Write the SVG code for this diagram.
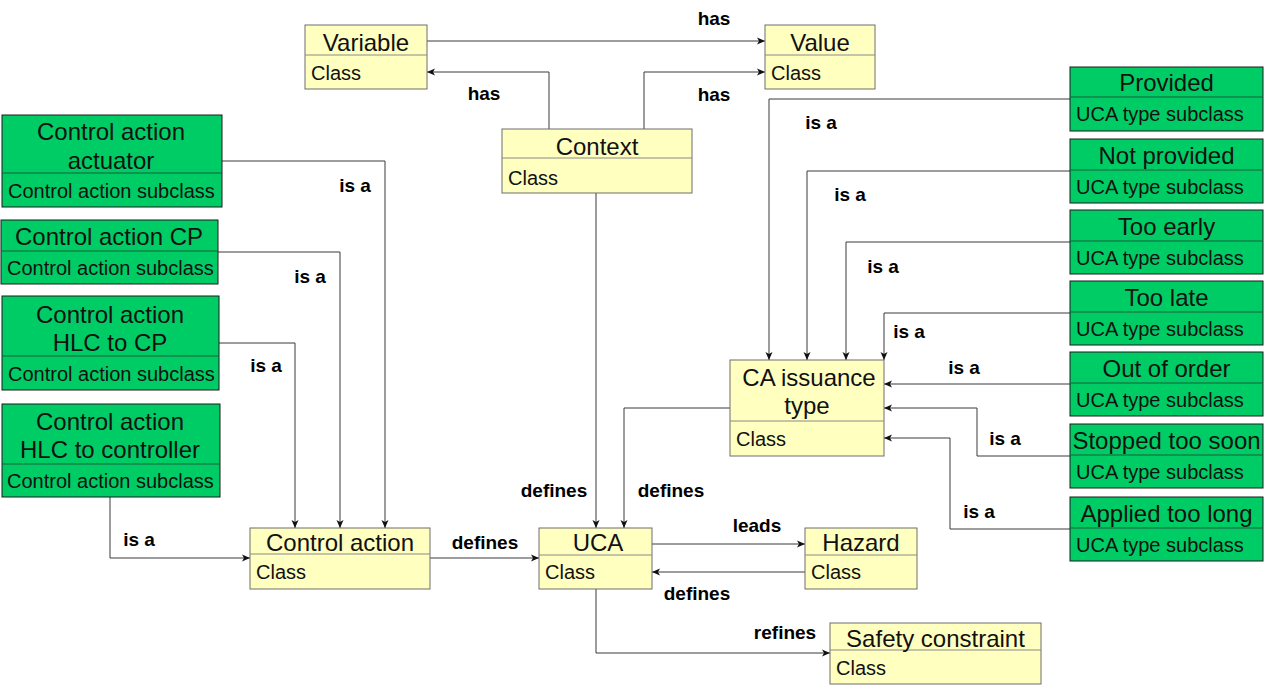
<svg xmlns="http://www.w3.org/2000/svg" width="1265" height="688" viewBox="0 0 1265 688">
  <style>
    .cls { fill: #FFFFC0; stroke: #6e6e6e; stroke-width: 1; }
    .div { stroke: #8a8a8a; stroke-width: 1; }
    .sub { fill: #00CC66; stroke: #1a1a1a; stroke-width: 1; }
    .sdiv { stroke: #1f5c38; stroke-width: 1; }
    .hd { font-family: "Liberation Sans", Arial, sans-serif; font-size: 24px; fill: #111; text-anchor: middle; }
    .at { font-family: "Liberation Sans", Arial, sans-serif; font-size: 20px; fill: #111; }
    .lbl { font-family: "Liberation Sans", Arial, sans-serif; font-size: 19px; font-weight: bold; fill: #000; text-anchor: middle; }
    .edge { fill: none; stroke: #3a3a3a; stroke-width: 1; marker-end: url(#arr); }
  </style>
  <defs>
    <marker id="arr" markerUnits="userSpaceOnUse" markerWidth="9" markerHeight="8" refX="8" refY="4" orient="auto">
      <path d="M0,0.5 L8,4 L0,7.5 L2,4 Z" fill="#111"/>
    </marker>
  </defs>
  <rect width="1265" height="688" fill="#ffffff"/>

  <!-- connectors -->
  <g id="connectors">
    <path class="edge" d="M427,41 H765"/>
    <path class="edge" d="M549,129 V72 H427"/>
    <path class="edge" d="M644,129 V72 H765"/>
    <path class="edge" d="M221,161 H385 V528"/>
    <path class="edge" d="M218,252 H340 V528"/>
    <path class="edge" d="M219,343 H295 V528"/>
    <path class="edge" d="M110,497 V558 H250"/>
    <path class="edge" d="M430,558 H539"/>
    <path class="edge" d="M596,193 V528"/>
    <path class="edge" d="M730,408 H624 V528"/>
    <path class="edge" d="M652,544 H805"/>
    <path class="edge" d="M805,572 H652"/>
    <path class="edge" d="M596,589 V653 H830"/>
    <path class="edge" d="M1070,99 H769 V360"/>
    <path class="edge" d="M1070,171 H807 V360"/>
    <path class="edge" d="M1070,242 H846 V360"/>
    <path class="edge" d="M1070,313 H884 V360"/>
    <path class="edge" d="M1070,384 H884"/>
    <path class="edge" d="M1070,456 H977 V408 H884"/>
    <path class="edge" d="M1070,529 H950 V438 H884"/>

    <text class="lbl" x="714" y="25">has</text>
    <text class="lbl" x="484" y="100">has</text>
    <text class="lbl" x="714" y="101">has</text>
    <text class="lbl" x="355" y="192">is a</text>
    <text class="lbl" x="310" y="283">is a</text>
    <text class="lbl" x="266" y="372">is a</text>
    <text class="lbl" x="139" y="546">is a</text>
    <text class="lbl" x="485" y="549">defines</text>
    <text class="lbl" x="554" y="497">defines</text>
    <text class="lbl" x="671" y="497">defines</text>
    <text class="lbl" x="757" y="532">leads</text>
    <text class="lbl" x="697" y="600">defines</text>
    <text class="lbl" x="785" y="639">refines</text>
    <text class="lbl" x="821" y="129">is a</text>
    <text class="lbl" x="850" y="201">is a</text>
    <text class="lbl" x="883" y="273">is a</text>
    <text class="lbl" x="909" y="338">is a</text>
    <text class="lbl" x="964" y="374">is a</text>
    <text class="lbl" x="1005" y="445">is a</text>
    <text class="lbl" x="979" y="518">is a</text>
  </g>

  <!-- class nodes -->
  <g id="variable">
    <rect class="cls" x="305" y="25" width="122" height="64"/>
    <line class="div" x1="305" y1="55" x2="427" y2="55"/>
    <text class="hd" x="366" y="51">Variable</text>
    <text class="at" x="311" y="80">Class</text>
  </g>
  <g id="value">
    <rect class="cls" x="765" y="25" width="110" height="64"/>
    <line class="div" x1="765" y1="55" x2="875" y2="55"/>
    <text class="hd" x="820" y="51">Value</text>
    <text class="at" x="771" y="80">Class</text>
  </g>
  <g id="context">
    <rect class="cls" x="502" y="129" width="190" height="64"/>
    <line class="div" x1="502" y1="158" x2="692" y2="158"/>
    <text class="hd" x="597" y="155">Context</text>
    <text class="at" x="508" y="185">Class</text>
  </g>
  <g id="control-action">
    <rect class="cls" x="250" y="528" width="180" height="61"/>
    <line class="div" x1="250" y1="554" x2="430" y2="554"/>
    <text class="hd" x="340" y="551">Control action</text>
    <text class="at" x="256" y="579">Class</text>
  </g>
  <g id="uca">
    <rect class="cls" x="539" y="528" width="113" height="61"/>
    <line class="div" x1="539" y1="555" x2="652" y2="555"/>
    <text class="hd" x="598" y="551">UCA</text>
    <text class="at" x="545" y="579">Class</text>
  </g>
  <g id="hazard">
    <rect class="cls" x="805" y="528" width="112" height="61"/>
    <line class="div" x1="805" y1="555" x2="917" y2="555"/>
    <text class="hd" x="861" y="551">Hazard</text>
    <text class="at" x="811" y="579">Class</text>
  </g>
  <g id="safety-constraint">
    <rect class="cls" x="830" y="623" width="211" height="61"/>
    <line class="div" x1="830" y1="650" x2="1041" y2="650"/>
    <text class="hd" x="935.5" y="647">Safety constraint</text>
    <text class="at" x="836" y="675">Class</text>
  </g>
  <g id="ca-issuance-type">
    <rect class="cls" x="730" y="360" width="154" height="96"/>
    <line class="div" x1="730" y1="421" x2="884" y2="421"/>
    <text class="hd" x="809" y="386">CA issuance</text>
    <text class="hd" x="807" y="414">type</text>
    <text class="at" x="736" y="446">Class</text>
  </g>

  <!-- control action subclasses -->
  <g id="ca-actuator">
    <rect class="sub" x="2" y="115" width="220" height="92"/>
    <line class="sdiv" x1="2" y1="173" x2="222" y2="173"/>
    <text class="hd" x="111" y="140">Control action</text>
    <text class="hd" x="111" y="169">actuator</text>
    <text class="at" x="8" y="198">Control action subclass</text>
  </g>
  <g id="ca-cp">
    <rect class="sub" x="1" y="220" width="217" height="64"/>
    <line class="sdiv" x1="1" y1="251" x2="218" y2="251"/>
    <text class="hd" x="109" y="245">Control action CP</text>
    <text class="at" x="7" y="275">Control action subclass</text>
  </g>
  <g id="ca-hlc-cp">
    <rect class="sub" x="2" y="296" width="217" height="94"/>
    <line class="sdiv" x1="2" y1="356" x2="219" y2="356"/>
    <text class="hd" x="110" y="323">Control action</text>
    <text class="hd" x="110" y="351">HLC to CP</text>
    <text class="at" x="8" y="381">Control action subclass</text>
  </g>
  <g id="ca-hlc-controller">
    <rect class="sub" x="2" y="404" width="218" height="93"/>
    <line class="sdiv" x1="2" y1="464" x2="220" y2="464"/>
    <text class="hd" x="110" y="430">Control action</text>
    <text class="hd" x="110" y="458">HLC to controller</text>
    <text class="at" x="7" y="488">Control action subclass</text>
  </g>

  <!-- UCA type subclasses -->
  <g id="provided">
    <rect class="sub" x="1070" y="67" width="193" height="64"/>
    <line class="sdiv" x1="1070" y1="97" x2="1263" y2="97"/>
    <text class="hd" x="1166.5" y="91">Provided</text>
    <text class="at" x="1076" y="121">UCA type subclass</text>
  </g>
  <g id="not-provided">
    <rect class="sub" x="1070" y="139" width="193" height="64"/>
    <line class="sdiv" x1="1070" y1="170" x2="1263" y2="170"/>
    <text class="hd" x="1166.5" y="164">Not provided</text>
    <text class="at" x="1076" y="194">UCA type subclass</text>
  </g>
  <g id="too-early">
    <rect class="sub" x="1070" y="210" width="193" height="64"/>
    <line class="sdiv" x1="1070" y1="241" x2="1263" y2="241"/>
    <text class="hd" x="1166.5" y="235">Too early</text>
    <text class="at" x="1076" y="265">UCA type subclass</text>
  </g>
  <g id="too-late">
    <rect class="sub" x="1070" y="281" width="193" height="64"/>
    <line class="sdiv" x1="1070" y1="312" x2="1263" y2="312"/>
    <text class="hd" x="1166.5" y="306">Too late</text>
    <text class="at" x="1076" y="336">UCA type subclass</text>
  </g>
  <g id="out-of-order">
    <rect class="sub" x="1070" y="352" width="193" height="64"/>
    <line class="sdiv" x1="1070" y1="383" x2="1263" y2="383"/>
    <text class="hd" x="1166.5" y="377">Out of order</text>
    <text class="at" x="1076" y="407">UCA type subclass</text>
  </g>
  <g id="stopped-too-soon">
    <rect class="sub" x="1070" y="424" width="193" height="64"/>
    <line class="sdiv" x1="1070" y1="455" x2="1263" y2="455"/>
    <text class="hd" x="1166.5" y="449">Stopped too soon</text>
    <text class="at" x="1076" y="479">UCA type subclass</text>
  </g>
  <g id="applied-too-long">
    <rect class="sub" x="1070" y="497" width="193" height="64"/>
    <line class="sdiv" x1="1070" y1="528" x2="1263" y2="528"/>
    <text class="hd" x="1166.5" y="522">Applied too long</text>
    <text class="at" x="1076" y="552">UCA type subclass</text>
  </g>
</svg>
